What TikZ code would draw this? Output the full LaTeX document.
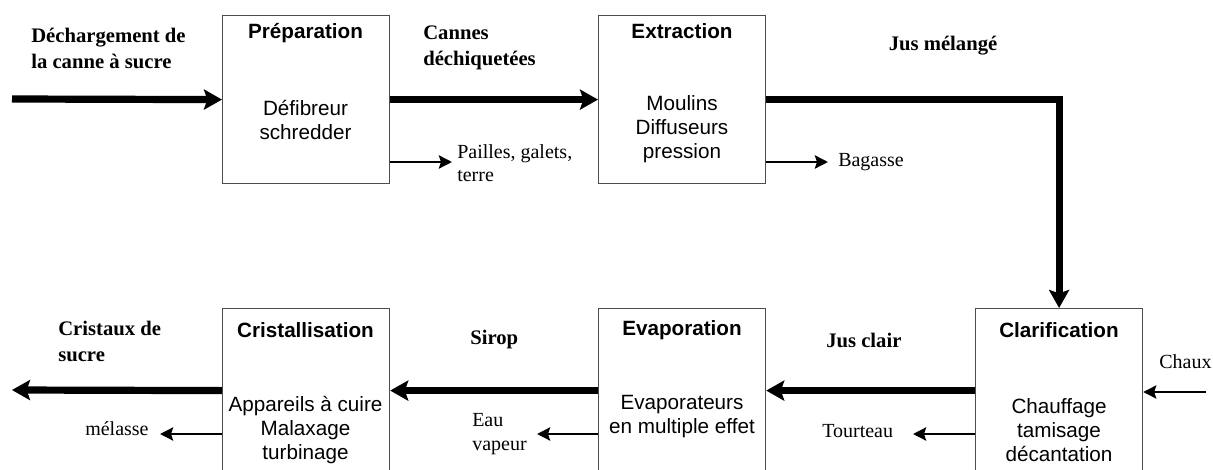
\documentclass[tikz,border=0pt]{standalone}
\usepackage{fontspec}
\setmainfont{Liberation Serif}
\setsansfont{Liberation Sans}
\usetikzlibrary{arrows.meta}
\begin{document}
\begin{tikzpicture}[x=0.75pt,y=-0.75pt,
  stage/.style={draw=black!70, line width=0.9pt, minimum width=125.25pt,
    minimum height=126pt, inner sep=0pt, anchor=north west},
  stagelow/.style={stage, minimum height=123pt},
  title/.style={font=\sffamily\bfseries\fontsize{15.5}{18}\selectfont, inner sep=0pt},
  body/.style={font=\sffamily\fontsize{15.5}{18}\selectfont, align=center, inner sep=0pt},
  flowlbl/.style={font=\bfseries\fontsize{15.5}{19.5}\selectfont, align=left, anchor=west, inner sep=0pt},
  sidelbl/.style={font=\fontsize{15}{17.5}\selectfont, align=left, anchor=west, inner sep=0pt},
  mainflow/.style={line width=5.4pt, -{Stealth[length=13.5pt,width=15pt,inset=2.5pt]}},
  sideflow/.style={line width=2.2pt, -{Stealth[length=9.75pt,width=9.75pt,inset=1.5pt]}}
]
\useasboundingbox (0,0) rectangle (1213,470);
\clip (0,0) rectangle (1213,470);

% process stages
\node[stage] (prep) at (222,15) {};
\node[stage] (extr) at (598,15) {};
\node[stagelow] (clar) at (975,308) {};
\node[stagelow] (evap) at (598,308) {};
\node[stagelow] (crist) at (222,308) {};

% stage titles and equipment
\node[title] (prepT) at (305.5,33) {Préparation};
\node[body] (prepB) at (305.5,120) {Défibreur\\schredder};
\node[title] (extrT) at (682,31) {Extraction};
\node[body] (extrB) at (682,129) {Moulins\\Diffuseurs\\pression};
\node[title] (clarT) at (1059,330) {Clarification};
\node[body] (clarB) at (1059,430) {Chauffage\\tamisage\\décantation};
\node[title] (evapT) at (682,330) {Evaporation};
\node[body] (evapB) at (682,417) {Evaporateurs\\en multiple effet};
\node[title] (cristT) at (305.5,330) {Cristallisation};
\node[body] (cristB) at (305.5,430) {Appareils à cuire\\Malaxage\\turbinage};

% main product flow
\coordinate (in) at (12,99);
\coordinate (out) at (12,390);
\draw[mainflow] (in) -- (prep.west);
\draw[mainflow] (prep.east) -- (extr.west);
\draw[mainflow] (extr.east) -| (clar.north);
\draw[mainflow] (clar.west) -- (evap.east);
\draw[mainflow] (evap.west) -- (crist.east);
\draw[mainflow] (crist.west) -- (out);

% by-products and additions
\coordinate (pailles) at (452,162);
\coordinate (bagasse) at (828,162);
\coordinate (chaux) at (1206,392);
\coordinate (tourteau) at (913,434);
\coordinate (eau) at (537,434);
\coordinate (melasse) at (160,434);
\draw[sideflow] (prep.east |- pailles) -- (pailles);
\draw[sideflow] (extr.east |- bagasse) -- (bagasse);
\draw[sideflow] (chaux) -- (chaux -| clar.east);
\draw[sideflow] (clar.west |- tourteau) -- (tourteau);
\draw[sideflow] (evap.west |- eau) -- (eau);
\draw[sideflow] (crist.west |- melasse) -- (melasse);

% flow labels
\node[flowlbl] (l1) at (31,48) {Déchargement de\\la canne à sucre};
\node[flowlbl] (l2) at (423,48) {Cannes\\déchiquetées};
\node[flowlbl, anchor=center] (l3) at (943,46) {Jus mélangé};
\node[flowlbl] (l4) at (826,340) {Jus clair};
\node[flowlbl] (l5) at (470,340) {Sirop};
\node[flowlbl] (l6) at (58,341) {Cristaux de\\sucre};

% side labels
\node[sidelbl] (s1) at (457,163) {Pailles, galets,\\terre};
\node[sidelbl] (s2) at (838,162) {Bagasse};
\node[sidelbl] (s3) at (1159,362) {Chaux};
\node[sidelbl] (s4) at (822,431) {Tourteau};
\node[sidelbl] (s5) at (472,434) {Eau\\vapeur};
\node[sidelbl] (s6) at (85,429) {mélasse};
\end{tikzpicture}
\end{document}
